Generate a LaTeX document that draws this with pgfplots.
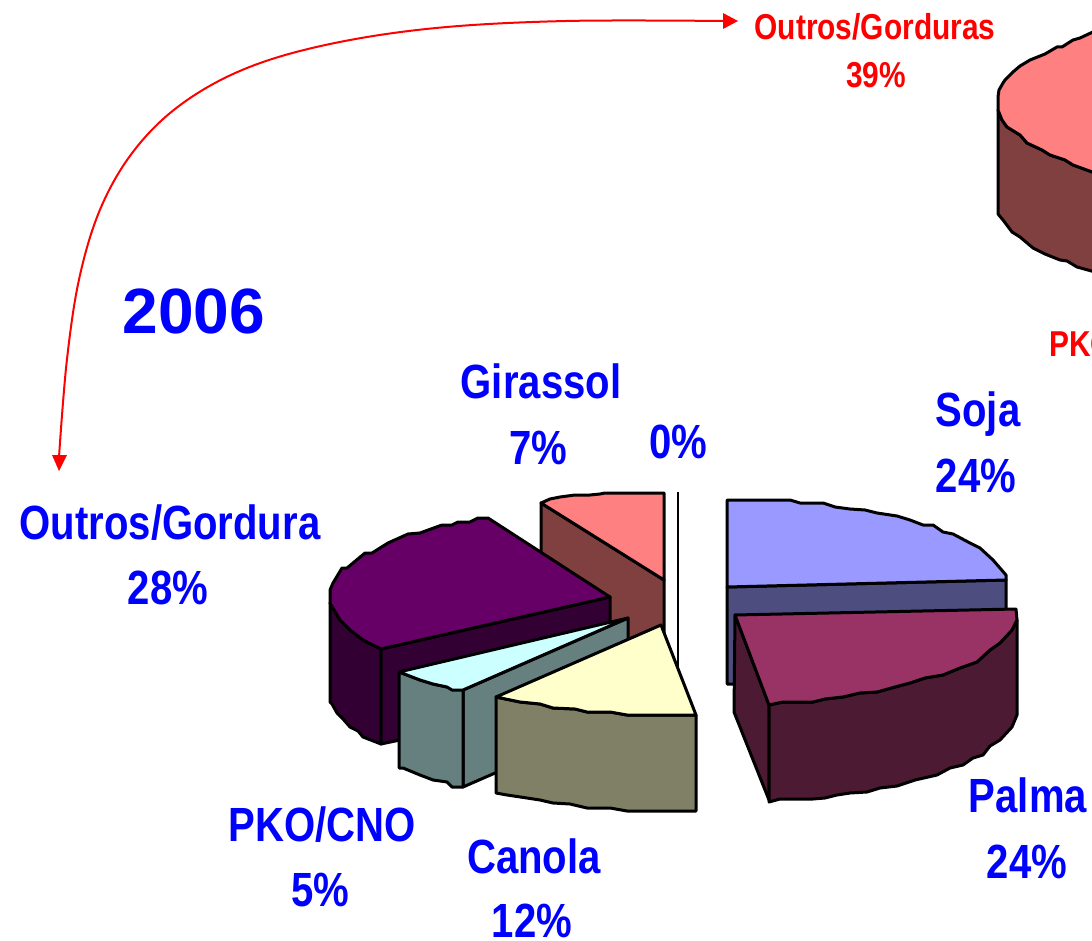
\documentclass[border=0pt]{standalone}
\usepackage{pgfplots}
\pgfplotsset{compat=1.18}
\usepackage{fontspec}
\setmainfont{Liberation Sans}
\definecolor{pinkT}{HTML}{FF8080}
\definecolor{pinkS}{HTML}{804040}
\definecolor{purpT}{HTML}{660066}
\definecolor{purpS}{HTML}{330033}
\definecolor{pkoT}{HTML}{CCFFFF}
\definecolor{pkoS}{HTML}{668080}
\definecolor{canT}{HTML}{FFFFCC}
\definecolor{canS}{HTML}{808066}
\definecolor{sojT}{HTML}{9999FF}
\definecolor{sojS}{HTML}{4D4D80}
\definecolor{palT}{HTML}{993366}
\definecolor{palS}{HTML}{4D1A33}
\newcommand{\B}[1]{\fontsize{48}{48}\selectfont\bfseries\scalebox{.835}[1]{#1}}
\newcommand{\R}[1]{\fontsize{36}{36}\selectfont\bfseries\scalebox{.83}[1]{#1}}
\begin{document}
\begin{tikzpicture}
\useasboundingbox (0,0) rectangle (1092pt,941pt);
\clip (0,0) rectangle (1092pt,941pt);
\begin{axis}[
  scale only axis, width=1092pt, height=941pt,
  xmin=0, xmax=1092, ymin=0, ymax=941, y dir=reverse,
  hide axis, clip=true,
  every axis plot/.style={line width=3pt, line join=round, draw=black},
]
% ---------- top right pie (partly off the page)
\addplot[fill=pinkS] coordinates {(998,110)(1002,120)(1007,127)(1020,135)(1027,143)(1042,150)(1050,155)(1065,160)(1073,165)(1095,173)(1095,272)(1077,267)(1067,261)(1060,260)(1045,254)(1033,248)(1020,237)(1012,232)(1003,220)(998,214)(998,210)} -- cycle;
\addplot[fill=pinkT] coordinates {(1095,31)(1080,38)(1073,40)(1062,47)(1057,47)(1045,54)(1030,60)(1020,66)(1013,72)(1005,80)(1003,83)(999,90)(998,97)(998,110)(1002,120)(1007,127)(1020,135)(1027,143)(1042,150)(1050,155)(1065,160)(1073,165)(1095,173)} -- cycle;
% ---------- 0% line
\addplot[line width=2pt] coordinates {(678,492)(678,670)};
% ---------- Girassol
\addplot[fill=pinkS] coordinates {(541,503)(664,580)(664,640)(541,640)} -- cycle;
\addplot[fill=pinkT] coordinates {(541,503)(550,499)(560,497)(575,495)(590,495)(600,494)(605,493)(664,493)(664,580)} -- cycle;
% ---------- Outros/Gordura
\addplot[fill=purpS] coordinates {(330,603)(340,620)(347,626)(350,630)(363,640)(381,649)(381,744)(363,737)(358,731)(350,727)(343,719)(337,713)(332,704)(330,702)} -- cycle;
\addplot[fill=purpS] coordinates {(381,649)(610,597)(610,640)(400,740)(381,744)} -- cycle;
\addplot[fill=purpT] coordinates {(488,518)(610,597)(381,649)(363,640)(350,630)(340,620)(330,603)(330,590)(333,583)(342,568)(347,568)(365,553)(372,553)(388,543)(408,534)(420,533)(442,525)(452,525)(458,522)(470,522)(478,518)} -- cycle;
% ---------- PKO/CNO
\addplot[fill=pkoS] coordinates {(463,690)(628,618)(628,715)(463,787)} -- cycle;
\addplot[fill=pkoS] coordinates {(399,672)(407,675)(420,680)(433,684)(447,687)(463,690)(463,787)(452,787)(447,782)(433,780)(420,775)(403,768)(399,768)} -- cycle;
\addplot[fill=pkoT] coordinates {(399,672)(628,618)(463,690)(452,690)(447,687)(433,684)(420,680)(407,675)} -- cycle;
% ---------- Canola
\addplot[fill=canS] coordinates {(496,697)(520,702)(540,704)(553,708)(575,709)(587,712)(610,712)(627,715)(696,715)(696,811)(627,811)(610,808)(587,808)(570,804)(553,803)(540,800)(527,798)(507,795)(496,793)} -- cycle;
\addplot[fill=canT] coordinates {(661,625)(696,715)(627,715)(610,712)(587,712)(575,709)(553,708)(540,704)(520,702)(496,697)} -- cycle;
% ---------- Soja
\addplot[fill=sojS] coordinates {(727,587)(1006,580)(1006,620)(735,684)(727,684)} -- cycle;
\addplot[fill=sojT] coordinates {(727,500)(790,500)(800,503)(823,503)(835,507)(850,509)(865,510)(877,513)(897,516)(910,520)(923,525)(933,525)(943,532)(953,534)(970,543)(980,548)(993,560)(1006,575)(1006,580)(727,587)} -- cycle;
% ---------- Palma
\addplot[fill=palS] coordinates {(735,615)(769,705)(769,800)(734,712)} -- cycle;
\addplot[fill=palS] coordinates {(769,705)(783,702)(813,702)(825,699)(843,697)(860,693)(877,692)(895,687)(910,683)(925,678)(943,675)(960,668)(977,662)(990,650)(1000,643)(1012,630)(1017,620)(1017,715)(1012,727)(1000,740)(990,746)(983,755)(973,758)(963,765)(950,768)(937,775)(915,780)(897,786)(880,788)(867,792)(850,793)(837,795)(825,798)(813,799)(780,799)(769,802)} -- cycle;
\addplot[fill=palT] coordinates {(735,615)(1016,609)(1017,620)(1012,630)(1000,643)(990,650)(977,662)(960,668)(943,675)(925,678)(910,683)(895,687)(877,692)(860,693)(843,697)(825,699)(813,702)(783,702)(769,705)} -- cycle;
% ---------- arrow
\addplot[draw=red, line width=2pt, smooth, tension=.6] coordinates {(723,21)(566,21)(436,28)(330,44)(247,68)(183,103)(136,148)(102,205)(80,275)(67,359)(59,457)};
\addplot[draw=none, fill=red] coordinates {(723,13)(738,21)(723,29)} -- cycle;
\addplot[draw=none, fill=red] coordinates {(52,455)(67,455)(59,471)} -- cycle;
% ---------- text
\node[anchor=base, text=blue, inner sep=0pt, font=\fontsize{64}{64}\selectfont\bfseries] at (axis cs:194,334) {2006};
\node[anchor=base, text=blue, inner sep=0pt] at (axis cs:170,539) {\B{Outros/Gordura}};
\node[anchor=base, text=blue, inner sep=0pt] at (axis cs:168,604) {\B{28\%}};
\node[anchor=base, text=blue, inner sep=0pt] at (axis cs:541,399) {\B{Girassol}};
\node[anchor=base, text=blue, inner sep=0pt] at (axis cs:538,464) {\B{7\%}};
\node[anchor=base, text=blue, inner sep=0pt] at (axis cs:678,458) {\B{0\%}};
\node[anchor=base, text=blue, inner sep=0pt] at (axis cs:978,426) {\B{Soja}};
\node[anchor=base, text=blue, inner sep=0pt] at (axis cs:976,492) {\B{24\%}};
\node[anchor=base, text=blue, inner sep=0pt] at (axis cs:1028,812) {\B{Palma}};
\node[anchor=base, text=blue, inner sep=0pt] at (axis cs:1027,878) {\B{24\%}};
\node[anchor=base, text=blue, inner sep=0pt] at (axis cs:322,841) {\B{PKO/CNO}};
\node[anchor=base, text=blue, inner sep=0pt] at (axis cs:320,906) {\B{5\%}};
\node[anchor=base, text=blue, inner sep=0pt] at (axis cs:534,873) {\B{Canola}};
\node[anchor=base, text=blue, inner sep=0pt] at (axis cs:532,937) {\B{12\%}};
\node[anchor=base, text=red, inner sep=0pt] at (axis cs:875,40) {\R{Outros/Gorduras}};
\node[anchor=base, text=red, inner sep=0pt] at (axis cs:876,88) {\R{39\%}};
\node[anchor=base west, text=red, inner sep=0pt] at (axis cs:1049,356) {\R{PKO/CNO}};
\end{axis}
\end{tikzpicture}
\end{document}
